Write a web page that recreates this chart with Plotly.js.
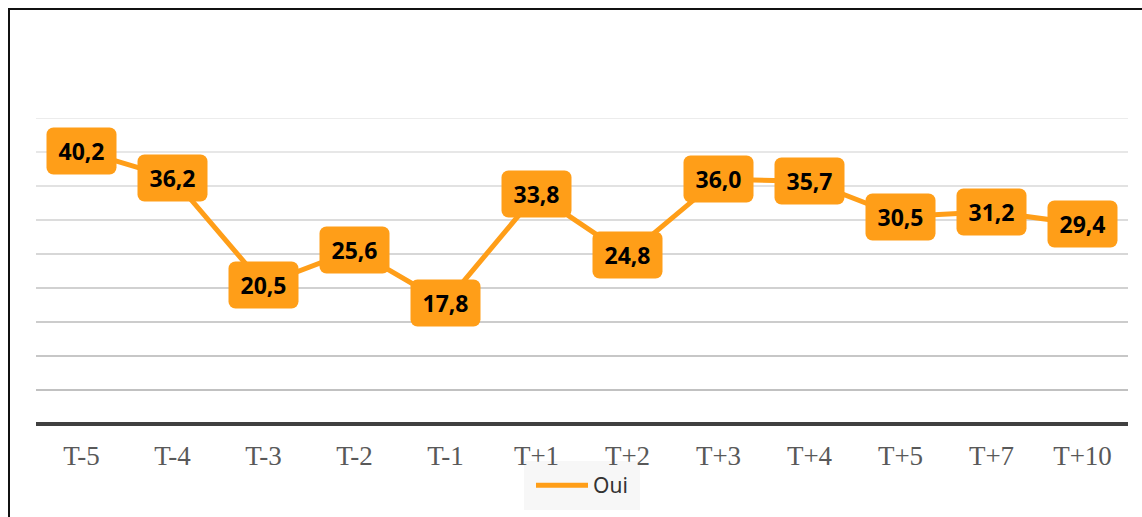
<!DOCTYPE html>
<html>
<head>
<meta charset="utf-8">
<script src="https://cdn.plot.ly/plotly-3.0.1.min.js"></script>
<style>
  html, body { margin: 0; padding: 0; background: #fff; }
  #wrap { position: relative; width: 1142px; height: 517px; overflow: hidden; }
  #frame { position: absolute; left: 8px; top: 8px; width: 1160px; height: 540px; border: 2px solid #111; box-sizing: border-box; pointer-events: none; }
  #chart { position: absolute; left: 0; top: 0; width: 1142px; height: 517px; }
</style>
</head>
<body>
<div id="wrap">
  <div id="chart"></div>
  <div id="frame"></div>
</div>
<script>
const categories = ["T-5", "T-4", "T-3", "T-2", "T-1", "T+1", "T+2", "T+3", "T+4", "T+5", "T+7", "T+10"];
const ouiValues = [40.2, 36.2, 20.5, 25.6, 17.8, 33.8, 24.8, 36.0, 35.7, 30.5, 31.2, 29.4];
const seriesName = "Oui";
const gridValues = [5, 10, 15, 20, 25, 30, 35, 40, 45];

const orange = "#FF9E18";

const trace = {
  x: categories,
  y: ouiValues,
  type: "scatter",
  mode: "lines",
  name: seriesName,
  line: { color: orange, width: 5 },
  hoverinfo: "skip"
};

function fmt(v) { return v.toFixed(1).replace(".", ","); }

const annotations = ouiValues.map((v, i) => ({
  x: categories[i],
  y: v,
  xref: "x",
  yref: "y",
  text: "<b>" + fmt(v) + "</b>",
  showarrow: false,
  xanchor: "center",
  yanchor: "middle",
  bgcolor: orange,
  borderpad: 0,
  width: 69,
  height: 46,
  font: { family: "Noto Sans, sans-serif", size: 23, color: "#000" }
}));

function mix(a, b, t) {
  const pa = [parseInt(a.slice(1,3),16), parseInt(a.slice(3,5),16), parseInt(a.slice(5,7),16)];
  const pb = [parseInt(b.slice(1,3),16), parseInt(b.slice(3,5),16), parseInt(b.slice(5,7),16)];
  return "rgb(" + pa.map((c, k) => Math.round(c + (pb[k] - c) * t)).join(",") + ")";
}

const shapes = gridValues.map((g, i) => ({
  type: "line",
  xref: "paper",
  yref: "y",
  x0: 0, x1: 1,
  y0: g, y1: g,
  line: { color: mix("#adadad", "#e6e6e6", i / (gridValues.length - 1)), width: 1.4 },
  layer: "below"
}));

const layout = {
  width: 1142,
  height: 517,
  margin: { l: 36, r: 14, t: 118, b: 93, autoexpand: false },
  paper_bgcolor: "rgba(0,0,0,0)",
  plot_bgcolor: "#fff",
  showlegend: true,
  separators: ",.",
  xaxis: {
    type: "category",
    range: [-0.5, 11.5],
    showgrid: false,
    zeroline: false,
    showline: false,
    ticks: "",
    ticklabelstandoff: 13,
    automargin: false,
    tickfont: { family: "Liberation Serif, serif", size: 27, color: "#595959" }
  },
  yaxis: {
    range: [0, 45],
    showgrid: false,
    zeroline: true,
    zerolinecolor: "#404040",
    zerolinewidth: 3.5,
    showticklabels: false,
    ticks: "",
    automargin: false,
    fixedrange: true
  },
  legend: {
    orientation: "h",
    x: 0.5,
    xanchor: "center",
    y: -0.121,
    yanchor: "top",
    bgcolor: "#f7f7f7",
    font: { family: "Noto Sans, sans-serif", size: 21, color: "#333" },
    itemwidth: 30
  },
  shapes: shapes,
  annotations: annotations
};

Plotly.newPlot("chart", [trace], layout, { displayModeBar: false, staticPlot: true }).then(() => {
  document.querySelectorAll("#chart .annotation rect.bg").forEach(r => {
    r.setAttribute("rx", 7);
    r.setAttribute("ry", 7);
  });
  // widen legend sample line and box to match the reference style
  const extra = 22;
  const leg = document.querySelector("#chart g.legend");
  if (leg) {
    leg.querySelectorAll("[clip-path]").forEach(e => e.removeAttribute("clip-path"));
    const bg = leg.querySelector("rect.bg");
    const path = leg.querySelector(".legendlines path");
    const txt = leg.querySelector("text.legendtext");
    const tr = leg.querySelector("g.traces");
    if (path) path.setAttribute("d", "M5,0h" + (30 + extra));
    if (txt) txt.setAttribute("x", parseFloat(txt.getAttribute("x")) + extra);
    if (bg) {
      bg.setAttribute("width", parseFloat(bg.getAttribute("width")) + extra + 14);
      bg.setAttribute("height", parseFloat(bg.getAttribute("height")) + 8);
    }
    if (tr) {
      const m = /translate\(([-\d.]+),\s*([-\d.]+)\)/.exec(tr.getAttribute("transform") || "");
      if (m) tr.setAttribute("transform", "translate(" + (parseFloat(m[1]) + 7) + "," + (parseFloat(m[2]) + 4) + ")");
    }
    const m2 = /translate\(([-\d.]+),\s*([-\d.]+)\)/.exec(leg.getAttribute("transform") || "");
    if (m2) leg.setAttribute("transform", "translate(" + (parseFloat(m2[1]) - (extra + 14) / 2) + "," + m2[2] + ")");
    // place legend beneath the axis tick labels
    const mainSvg = document.querySelector("#chart svg.main-svg");
    const cart = mainSvg && mainSvg.querySelector("g.cartesianlayer");
    if (cart) mainSvg.insertBefore(leg, cart);
  }
});
</script>
</body>
</html>
